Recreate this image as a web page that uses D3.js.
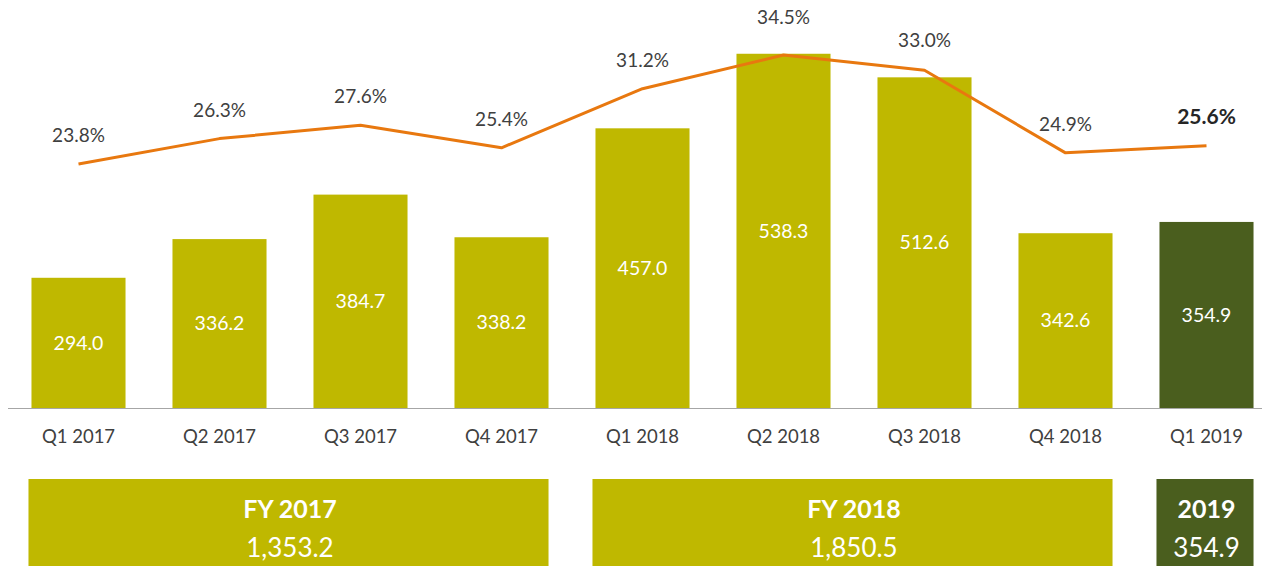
<!DOCTYPE html>
<html><head><meta charset="utf-8">
<script src="https://cdn.jsdelivr.net/npm/d3@7"></script>
<style>html,body{margin:0;padding:0;background:#fff}svg{display:block}</style>
</head><body>
<svg id="chart" width="1264" height="566"></svg>
<script>
const categories = ["Q1 2017","Q2 2017","Q3 2017","Q4 2017","Q1 2018","Q2 2018","Q3 2018","Q4 2018","Q1 2019"];
const revenue = [294.0, 336.2, 384.7, 338.2, 457.0, 538.3, 512.6, 342.6, 354.9];
const margin = [23.8, 26.3, 27.6, 25.4, 31.2, 34.5, 33.0, 24.9, 25.6];
const groupLabels = ["FY 2017", "FY 2018", "2019"];
const groupTotals = ["1,353.2", "1,850.5", "354.9"];
const groupStart = ["Q1 2017", "Q1 2018", "Q1 2019"];
const groupEnd = ["Q4 2017", "Q4 2018", "Q1 2019"];

const OLIVE = "#BFB800", DARK = "#4A5E1E", ORANGE = "#E8780F", TEXT = "#404040";
const FONT = "Lato, 'Open Sans', sans-serif";
const svg = d3.select("#chart");
const baseY = 408;

const x = d3.scaleBand().domain(categories).range([8, 1277]).paddingInner(0.333).paddingOuter(0.1665);
const y = d3.scaleLinear().domain([152, 552]).range([baseY, baseY - 400 * 0.917]);
const yp = d3.scaleLinear().domain([20, 40]).range([202.8, -1]);
const isLast = (i) => i === categories.length - 1;

// bars
svg.append("g").selectAll("rect").data(revenue).join("rect")
  .attr("x", (d, i) => x(categories[i]))
  .attr("y", d => y(d))
  .attr("width", x.bandwidth())
  .attr("height", d => baseY - y(d))
  .attr("fill", (d, i) => isLast(i) ? DARK : OLIVE);

// bar labels
svg.append("g").selectAll("text").data(revenue).join("text")
  .attr("x", (d, i) => x(categories[i]) + x.bandwidth() / 2)
  .attr("y", d => (y(d) + baseY) / 2)
  .attr("dy", "0.35em")
  .attr("text-anchor", "middle")
  .attr("fill", "#fff")
  .style("font-family", FONT).style("font-size", "19.5px")
  .text(d => d3.format(".1f")(d));

// x axis
const xAxis = d3.axisBottom(x).tickSize(0).tickPadding(0);
const ax = svg.append("g").attr("transform", `translate(0,${baseY})`).call(xAxis);
ax.select(".domain").remove();
ax.selectAll("text").attr("y", 35).attr("dy", 0).attr("fill", TEXT)
  .style("font-family", FONT).style("font-size", "18.5px");
svg.append("line").attr("x1", 8).attr("x2", 1262).attr("y1", baseY + 0.5).attr("y2", baseY + 0.5)
  .attr("stroke", "#A6A6A6").attr("stroke-width", 1);

// line
const line = d3.line().x((d, i) => x(categories[i]) + x.bandwidth() / 2).y(d => yp(d));
svg.append("path").datum(margin).attr("d", line)
  .attr("fill", "none").attr("stroke", ORANGE).attr("stroke-width", 3).attr("stroke-linejoin", "round");

// line labels
svg.append("g").selectAll("text").data(margin).join("text")
  .attr("x", (d, i) => x(categories[i]) + x.bandwidth() / 2)
  .attr("y", (d, i) => Math.min(yp(d) - 22, y(revenue[i]) - 30))
  .attr("text-anchor", "middle")
  .attr("fill", (d, i) => isLast(i) ? "#262626" : TEXT)
  .style("font-weight", (d, i) => isLast(i) ? "bold" : "normal")
  .style("font-family", FONT).style("font-size", (d, i) => isLast(i) ? "21px" : "19px")
  .text(d => d3.format(".1f")(d) + "%");

// bottom group boxes
const gBox = svg.append("g").selectAll("g").data(groupLabels).join("g");
gBox.append("rect")
  .attr("x", (d, i) => x(groupStart[i]) - 3)
  .attr("y", 479)
  .attr("width", (d, i) => x(groupEnd[i]) + x.bandwidth() - x(groupStart[i]) + 3)
  .attr("height", 90)
  .attr("fill", (d, i) => i === groupLabels.length - 1 ? DARK : OLIVE);
gBox.append("text")
  .attr("x", (d, i) => (x(groupStart[i]) + x(groupEnd[i]) + x.bandwidth()) / 2)
  .attr("y", 518).attr("text-anchor", "middle").attr("fill", "#fff")
  .style("font-family", FONT).style("font-size", "25px").style("font-weight", "bold")
  .text(d => d);
gBox.append("text")
  .attr("x", (d, i) => (x(groupStart[i]) + x(groupEnd[i]) + x.bandwidth()) / 2)
  .attr("y", 557).attr("text-anchor", "middle").attr("fill", "#fff")
  .style("font-family", FONT).style("font-size", "26px")
  .text((d, i) => groupTotals[i]);
</script>
</body></html>
